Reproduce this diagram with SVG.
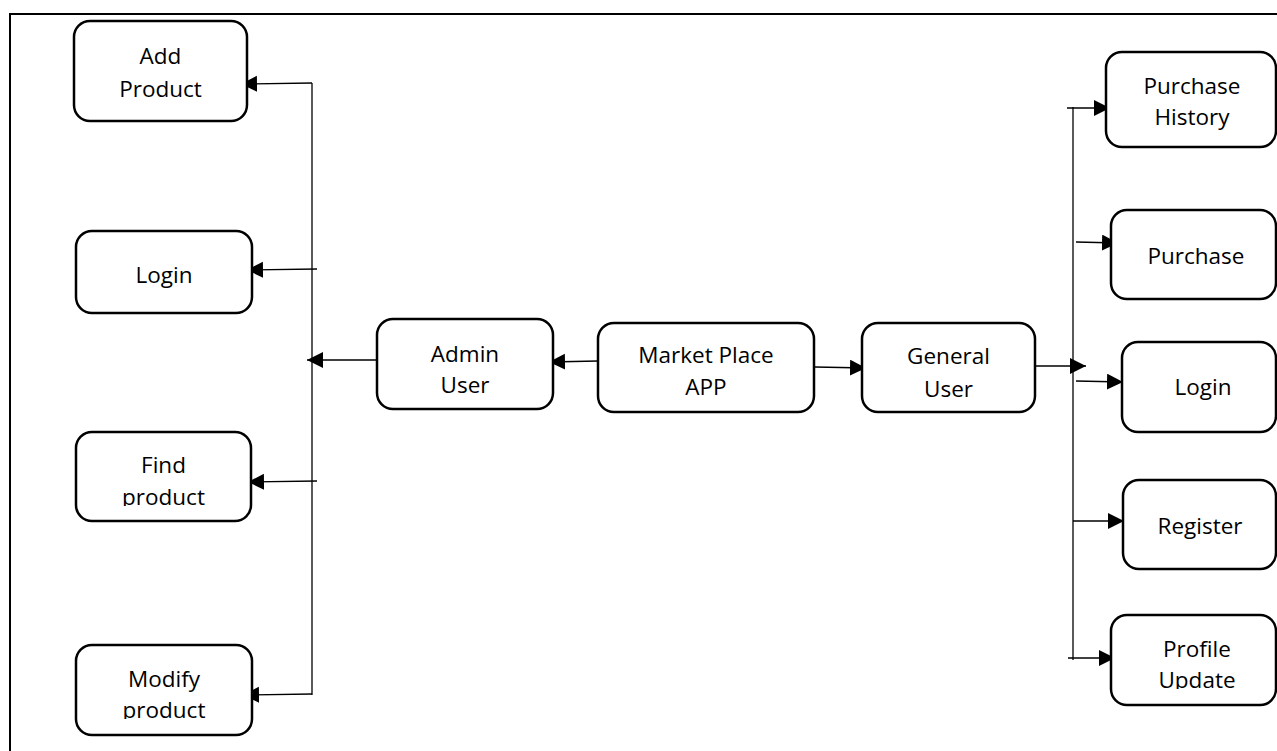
<svg xmlns="http://www.w3.org/2000/svg" width="1277" height="751" viewBox="0 0 1277 751">
  <defs>
    <style>
      .box { fill: #ffffff; stroke: #000000; stroke-width: 2.5; }
      .lbl { font-family: "Open Sans", "Liberation Sans", sans-serif; font-size: 22.5px; fill: #000000; text-anchor: middle; }
      .wire { fill: none; stroke: #000000; stroke-width: 1.3; }
      .frame { fill: none; stroke: #000000; stroke-width: 2; }
    </style>
    <marker id="arrow" markerUnits="userSpaceOnUse" markerWidth="17" markerHeight="17" refX="16" refY="8" orient="auto">
      <path d="M0,0 L16,8 L0,16 z" fill="#000000"/>
    </marker>
    <!-- text boxes crop the lower line of their labels -->
    <clipPath id="clipFind"><rect x="76" y="432" width="175" height="74"/></clipPath>
    <clipPath id="clipModify"><rect x="76" y="645" width="176" height="74"/></clipPath>
    <clipPath id="clipProfile"><rect x="1111" y="615" width="166" height="74"/></clipPath>
  </defs>

  <rect width="1277" height="751" fill="#ffffff"/>

  <!-- outer frame: top and left edges -->
  <path class="frame" d="M10,751 L10,14 L1277,14"/>

  <!-- connectors -->
  <g id="connectors">
    <!-- admin side bus -->
    <line class="wire" x1="312" y1="83" x2="312" y2="695"/>
    <line class="wire" x1="312" y1="83" x2="241" y2="84" marker-end="url(#arrow)"/>
    <line class="wire" x1="317" y1="269" x2="247" y2="270" marker-end="url(#arrow)"/>
    <line class="wire" x1="317" y1="481" x2="248" y2="482" marker-end="url(#arrow)"/>
    <line class="wire" x1="312" y1="694" x2="243" y2="695" marker-end="url(#arrow)"/>
    <line class="wire" x1="377" y1="360" x2="307" y2="360" marker-end="url(#arrow)"/>
    <line class="wire" x1="598" y1="361" x2="549" y2="362" marker-end="url(#arrow)"/>
    <!-- general user side bus -->
    <line class="wire" x1="815" y1="367" x2="866" y2="368" marker-end="url(#arrow)"/>
    <line class="wire" x1="1035" y1="366" x2="1086" y2="366" marker-end="url(#arrow)"/>
    <line class="wire" x1="1073" y1="107" x2="1073" y2="660"/>
    <line class="wire" x1="1067" y1="108" x2="1110" y2="108" marker-end="url(#arrow)"/>
    <line class="wire" x1="1076" y1="242" x2="1118" y2="243" marker-end="url(#arrow)"/>
    <line class="wire" x1="1076" y1="381" x2="1123" y2="382" marker-end="url(#arrow)"/>
    <line class="wire" x1="1073" y1="521" x2="1124" y2="521" marker-end="url(#arrow)"/>
    <line class="wire" x1="1068" y1="658" x2="1115" y2="658" marker-end="url(#arrow)"/>
  </g>

  <g id="add-product">
    <rect class="box" x="74" y="21" width="173" height="100" rx="16"/>
    <text class="lbl" x="160.5" y="64">Add</text>
    <text class="lbl" x="160.5" y="97">Product</text>
  </g>
  <g id="admin-login">
    <rect class="box" x="76" y="231" width="176" height="82" rx="16"/>
    <text class="lbl" x="164" y="283">Login</text>
  </g>
  <g id="find-product">
    <rect class="box" x="76" y="432" width="175" height="89" rx="16"/>
    <g clip-path="url(#clipFind)">
      <text class="lbl" x="163.5" y="473">Find</text>
      <text class="lbl" x="163.5" y="505">product</text>
    </g>
  </g>
  <g id="modify-product">
    <rect class="box" x="76" y="645" width="176" height="90" rx="16"/>
    <g clip-path="url(#clipModify)">
      <text class="lbl" x="164" y="687">Modify</text>
      <text class="lbl" x="164" y="718">product</text>
    </g>
  </g>
  <g id="admin-user">
    <rect class="box" x="377" y="319" width="176" height="90" rx="16"/>
    <text class="lbl" x="465" y="362">Admin</text>
    <text class="lbl" x="465" y="393">User</text>
  </g>
  <g id="market-place-app">
    <rect class="box" x="598" y="323" width="216" height="89" rx="16"/>
    <text class="lbl" x="706" y="363">Market Place</text>
    <text class="lbl" x="706" y="395">APP</text>
  </g>
  <g id="general-user">
    <rect class="box" x="862" y="323" width="173" height="89" rx="16"/>
    <text class="lbl" x="948.5" y="364">General</text>
    <text class="lbl" x="948.5" y="397">User</text>
  </g>
  <g id="purchase-history">
    <rect class="box" x="1106" y="52" width="170" height="95" rx="16"/>
    <text class="lbl" x="1192" y="94">Purchase</text>
    <text class="lbl" x="1192" y="125">History</text>
  </g>
  <g id="purchase">
    <rect class="box" x="1111" y="210" width="165" height="89" rx="16"/>
    <text class="lbl" x="1196" y="264">Purchase</text>
  </g>
  <g id="user-login">
    <rect class="box" x="1122" y="342" width="154" height="90" rx="16"/>
    <text class="lbl" x="1203" y="395">Login</text>
  </g>
  <g id="register">
    <rect class="box" x="1123" y="480" width="153" height="89" rx="16"/>
    <text class="lbl" x="1200" y="534">Register</text>
  </g>
  <g id="profile-update">
    <rect class="box" x="1111" y="615" width="165" height="90" rx="16"/>
    <g clip-path="url(#clipProfile)">
      <text class="lbl" x="1197" y="657">Profile</text>
      <text class="lbl" x="1197" y="688">Update</text>
    </g>
  </g>
</svg>
